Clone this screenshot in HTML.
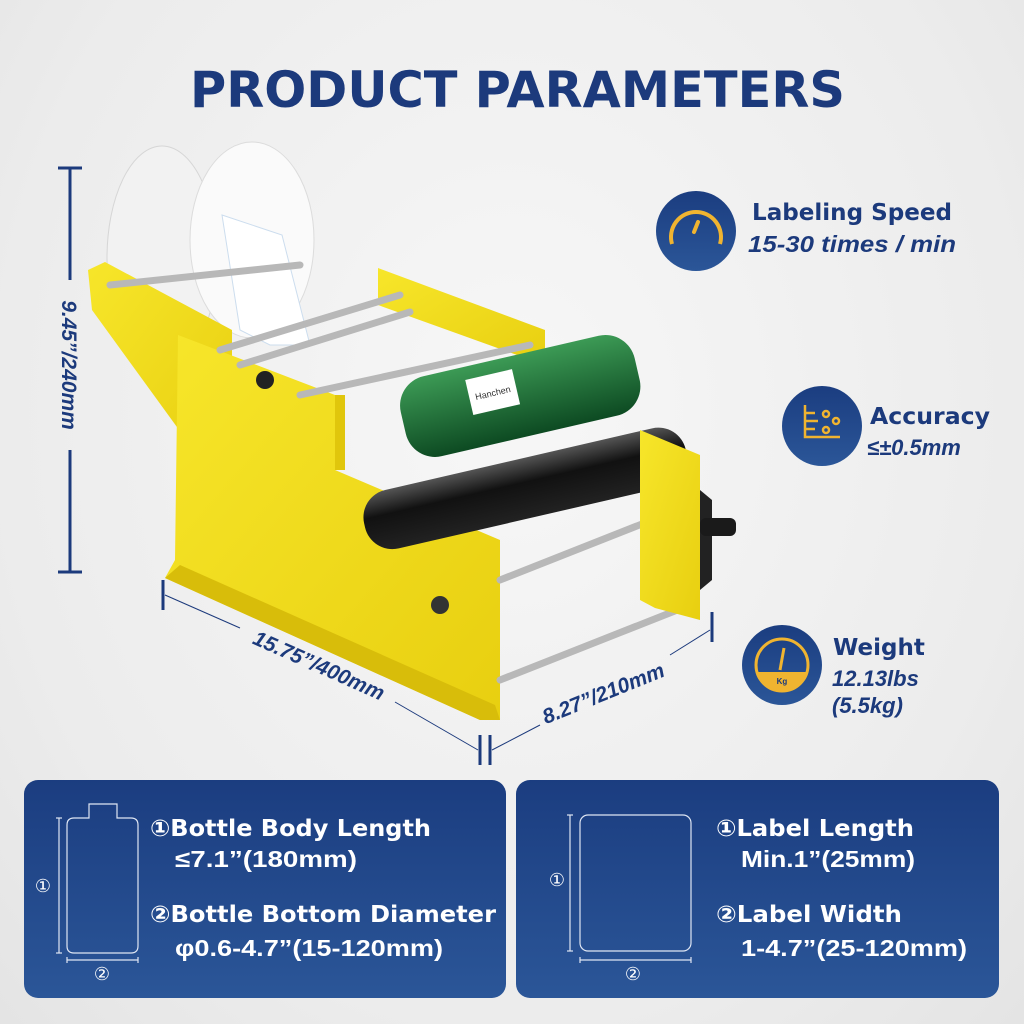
<!DOCTYPE html>
<html><head><meta charset="utf-8"><style>
html,body{margin:0;padding:0}
body{width:1024px;height:1024px;overflow:hidden;background:radial-gradient(ellipse at 50% 40%,#f7f7f7 0%,#ececec 70%,#e4e4e4 100%);font-family:"Liberation Sans","DejaVu Sans",sans-serif}
svg{position:absolute;left:0;top:0}
</style></head><body>
<svg width="1024" height="1024" viewBox="0 0 1024 1024" xmlns="http://www.w3.org/2000/svg">
<defs>
<linearGradient id="pan" x1="0" y1="0" x2="0" y2="1"><stop offset="0" stop-color="#1b3d80"/><stop offset="1" stop-color="#2b5698"/></linearGradient>
<linearGradient id="yel" x1="0" y1="0" x2="1" y2="1"><stop offset="0" stop-color="#f7e62a"/><stop offset="1" stop-color="#e8cf10"/></linearGradient>
<linearGradient id="grn" x1="0" y1="0" x2="0" y2="1"><stop offset="0" stop-color="#3c9a55"/><stop offset="1" stop-color="#0d4a22"/></linearGradient>
<linearGradient id="blk" x1="0" y1="0" x2="0" y2="1"><stop offset="0" stop-color="#555"/><stop offset="0.4" stop-color="#111"/><stop offset="1" stop-color="#222"/></linearGradient>
</defs>
<text x="190" y="107" textLength="655" lengthAdjust="spacingAndGlyphs" font-size="50" font-weight="900" fill="#1c3a7c" font-family="'DejaVu Sans','Liberation Sans',sans-serif">PRODUCT PARAMETERS</text>

<!-- dimension lines -->
<g stroke="#1c3a7c" stroke-width="3" fill="none">
<line x1="70" y1="168" x2="70" y2="280"/><line x1="70" y1="450" x2="70" y2="572"/><line x1="58" y1="168" x2="82" y2="168"/><line x1="58" y1="572" x2="82" y2="572"/>
<line x1="163" y1="580" x2="163" y2="610"/><line x1="480" y1="735" x2="480" y2="765"/><line x1="490" y1="735" x2="490" y2="765"/>
<line x1="712" y1="612" x2="712" y2="642"/>
</g>
<g stroke="#1c3a7c" stroke-width="1">
<line x1="165" y1="595" x2="240" y2="628"/><line x1="395" y1="702" x2="478" y2="750"/>
<line x1="492" y1="750" x2="540" y2="725"/><line x1="670" y1="655" x2="710" y2="630"/>
</g>
<text transform="translate(62,365) rotate(90)" text-anchor="middle" font-size="21" font-weight="bold" font-style="italic" fill="#1c3a7c">9.45”/240mm</text>
<text transform="translate(316,672) rotate(24)" text-anchor="middle" font-size="21" font-weight="bold" font-style="italic" fill="#1c3a7c">15.75”/400mm</text>
<text transform="translate(606,700) rotate(-22)" text-anchor="middle" font-size="21" font-weight="bold" font-style="italic" fill="#1c3a7c">8.27”/210mm</text>

<!-- machine -->
<polygon points="378,268 545,330 545,365 378,305" fill="url(#yel)"/>
<ellipse cx="162" cy="258" rx="55" ry="112" fill="#f2f2f2" stroke="#d6d6d6"/>
<ellipse cx="252" cy="240" rx="62" ry="98" fill="#fafafa" stroke="#dcdcdc"/>
<polygon points="222,215 282,235 310,345 270,345 240,330" fill="#fff" stroke="#cde"/>
<polygon points="88,270 105,262 232,330 232,455 190,445 92,310" fill="url(#yel)"/>
<polygon points="178,335 335,395 335,470 500,540 500,720 480,720 165,578 175,560" fill="url(#yel)"/>
<polygon points="165,578 480,720 500,720 495,705 180,565" fill="#d8bd0a"/>
<g stroke="#b8b8b8" stroke-width="7" stroke-linecap="round">
<line x1="110" y1="285" x2="300" y2="265"/><line x1="220" y1="350" x2="400" y2="295"/><line x1="240" y1="365" x2="410" y2="312"/>
<line x1="300" y1="395" x2="530" y2="345"/><line x1="500" y1="580" x2="690" y2="505"/><line x1="500" y1="680" x2="690" y2="605"/>
</g>
<g transform="rotate(-13 540 485)"><rect x="360" y="455" width="330" height="60" rx="28" fill="url(#blk)"/></g>
<g transform="rotate(-13 520 395)"><rect x="400" y="355" width="240" height="82" rx="30" fill="url(#grn)"/><rect x="470" y="368" width="48" height="36" fill="#fff"/><text x="494" y="390" font-size="9" text-anchor="middle" fill="#333">Hanchen</text></g>
<polygon points="640,430 700,455 700,620 655,608 640,600" fill="url(#yel)"/>
<polygon points="700,490 712,500 712,580 700,590" fill="#222"/>
<rect x="700" y="518" width="36" height="18" rx="6" fill="#1a1a1a"/>
<polygon points="335,395 345,395 345,470 335,470" fill="#e0c60c"/>
<circle cx="440" cy="605" r="9" fill="#333"/>
<circle cx="265" cy="380" r="9" fill="#222"/>

<!-- right icons -->
<circle cx="696" cy="231" r="40" fill="url(#pan)"/>
<path d="M672 244 A25 25 0 1 1 720 244" fill="none" stroke="#f0b430" stroke-width="4"/>
<line x1="698" y1="222" x2="694" y2="232" stroke="#f0b430" stroke-width="4" stroke-linecap="round"/>
<text x="752" y="220" textLength="200" lengthAdjust="spacingAndGlyphs" font-size="23" font-weight="900" fill="#1c3a7c" font-family="'DejaVu Sans',sans-serif">Labeling Speed</text>
<text x="748" y="252" textLength="208" lengthAdjust="spacingAndGlyphs" font-size="23" font-style="italic" font-weight="bold" fill="#1c3a7c">15-30 times / min</text>

<circle cx="822" cy="426" r="40" fill="url(#pan)"/>
<g stroke="#f0b430" stroke-width="2.5" fill="none"><polyline points="805,405 805,437 840,437"/><line x1="805" y1="413" x2="815" y2="413"/><line x1="805" y1="421" x2="818" y2="421"/><line x1="805" y1="429" x2="815" y2="429"/><circle cx="826" cy="414" r="3"/><circle cx="836" cy="421" r="3"/><circle cx="826" cy="430" r="3"/></g>
<text x="870" y="424" textLength="120" lengthAdjust="spacingAndGlyphs" font-size="23" font-weight="900" fill="#1c3a7c" font-family="'DejaVu Sans',sans-serif">Accuracy</text>
<text x="867" y="455" font-size="22" font-style="italic" font-weight="bold" fill="#1c3a7c">≤±0.5mm</text>

<circle cx="782" cy="665" r="40" fill="url(#pan)"/>
<circle cx="782" cy="665" r="26" fill="none" stroke="#f0b430" stroke-width="3"/>
<path d="M757 672 L807 672 A26 26 0 0 1 757 672Z" fill="#f0b430"/>
<line x1="784" y1="648" x2="780" y2="670" stroke="#f0b430" stroke-width="3"/>
<text x="782" y="684" font-size="8" text-anchor="middle" fill="#1c3a7c" font-weight="bold">Kg</text>
<text x="833" y="655" font-size="23" font-weight="900" fill="#1c3a7c" font-family="'DejaVu Sans',sans-serif">Weight</text>
<text x="832" y="686" font-size="22" font-style="italic" font-weight="bold" fill="#1c3a7c">12.13lbs</text>
<text x="832" y="713" font-size="22" font-style="italic" font-weight="bold" fill="#1c3a7c">(5.5kg)</text>

<!-- bottom panels -->
<rect x="24" y="780" width="482" height="218" rx="14" fill="url(#pan)"/>
<rect x="516" y="780" width="483" height="218" rx="14" fill="url(#pan)"/>
<g stroke="#dfe6f3" stroke-width="1.2" fill="none">
<path d="M89 818 L89 804 L117 804 L117 818 L131 818 Q138 818 138 825 L138 946 Q138 953 131 953 L74 953 Q67 953 67 946 L67 825 Q67 818 74 818 Z"/>
<line x1="59" y1="818" x2="59" y2="953"/><line x1="56" y1="818" x2="62" y2="818"/><line x1="56" y1="953" x2="62" y2="953"/>
<line x1="67" y1="960" x2="138" y2="960"/><line x1="67" y1="957" x2="67" y2="963"/><line x1="138" y1="957" x2="138" y2="963"/>
<rect x="580" y="815" width="111" height="136" rx="8"/>
<line x1="570" y1="815" x2="570" y2="951"/><line x1="567" y1="815" x2="573" y2="815"/><line x1="567" y1="951" x2="573" y2="951"/>
<line x1="580" y1="960" x2="691" y2="960"/><line x1="580" y1="957" x2="580" y2="963"/><line x1="691" y1="957" x2="691" y2="963"/>
</g>
<g fill="#fff" font-size="18">
<text x="43" y="892" text-anchor="middle">①</text><text x="102" y="980" text-anchor="middle">②</text>
<text x="557" y="886" text-anchor="middle">①</text><text x="633" y="980" text-anchor="middle">②</text>
</g>
<g fill="#fff">
<text x="150" y="836" textLength="281" lengthAdjust="spacingAndGlyphs" font-size="23" font-weight="900" font-family="'DejaVu Sans',sans-serif">①Bottle Body Length</text>
<text x="175" y="867" textLength="182" lengthAdjust="spacingAndGlyphs" font-size="23" font-weight="bold">≤7.1”(180mm)</text>
<text x="150" y="922" textLength="346" lengthAdjust="spacingAndGlyphs" font-size="23" font-weight="900" font-family="'DejaVu Sans',sans-serif">②Bottle Bottom Diameter</text>
<text x="175" y="956" textLength="268" lengthAdjust="spacingAndGlyphs" font-size="23" font-weight="bold">φ0.6-4.7”(15-120mm)</text>
<text x="716" y="836" textLength="198" lengthAdjust="spacingAndGlyphs" font-size="23" font-weight="900" font-family="'DejaVu Sans',sans-serif">①Label Length</text>
<text x="741" y="867" textLength="174" lengthAdjust="spacingAndGlyphs" font-size="23" font-weight="bold">Min.1”(25mm)</text>
<text x="716" y="922" textLength="186" lengthAdjust="spacingAndGlyphs" font-size="23" font-weight="900" font-family="'DejaVu Sans',sans-serif">②Label Width</text>
<text x="741" y="956" textLength="226" lengthAdjust="spacingAndGlyphs" font-size="23" font-weight="bold">1-4.7”(25-120mm)</text>
</g>
</svg>
</body></html>
